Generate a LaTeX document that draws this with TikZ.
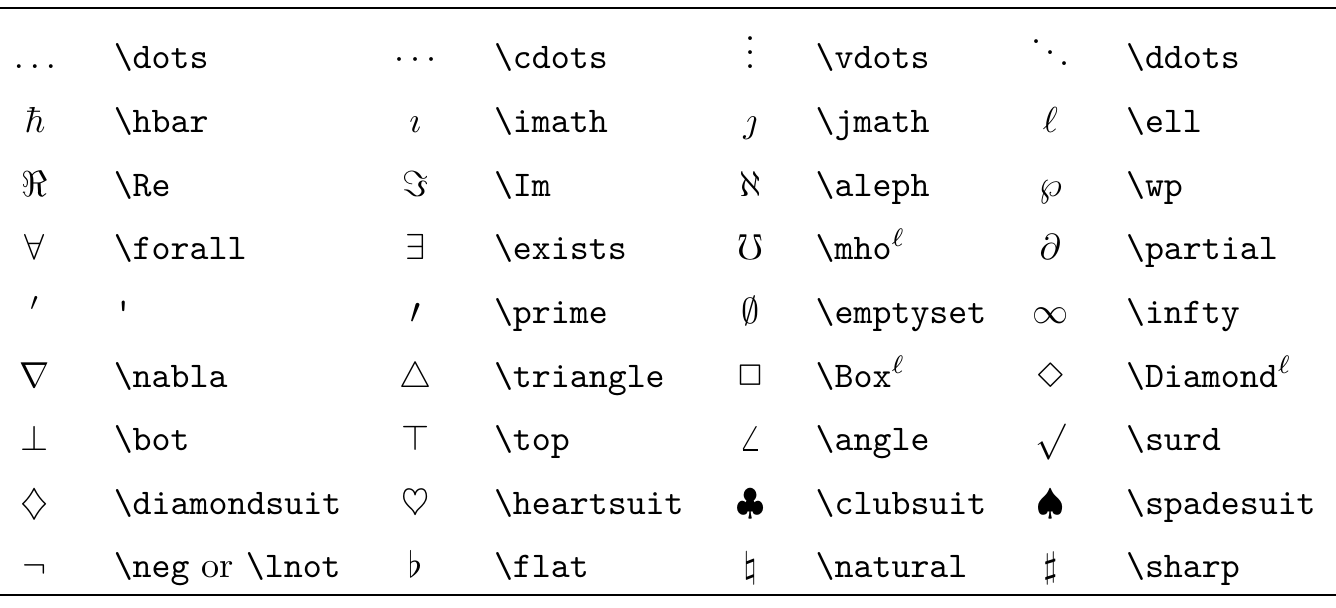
\documentclass[tikz,border=0pt]{standalone}
\usepackage{latexsym}
\begin{document}
\begin{tikzpicture}[sym/.style={anchor=base, inner sep=0pt}, cmd/.style={anchor=base west, inner sep=0pt, font=\ttfamily}]
		\useasboundingbox (0,0) rectangle (13,5.916);
		\draw [line width=0.5pt] (0,5.838) -- (13,5.838);
		\draw [line width=0.5pt] (0,0.127) -- (13,0.127);
		% row 1
		\node [sym] (s11) at (0.34,5.245) {$\dots$};
		\node [cmd] (c11) at (1.10,5.245) {\textbackslash dots};
		\node [sym] (s12) at (4.04,5.245) {$\cdots$};
		\node [cmd] (c12) at (4.80,5.245) {\textbackslash cdots};
		\node [sym] (s13) at (7.30,5.245) {$\vdots$};
		\node [cmd] (c13) at (7.93,5.245) {\textbackslash vdots};
		\node [sym] (s14) at (10.22,5.245) {$\ddots$};
		\node [cmd] (c14) at (10.95,5.245) {\textbackslash ddots};
		% row 2
		\node [sym] (s21) at (0.34,4.626) {$\hbar$};
		\node [cmd] (c21) at (1.10,4.626) {\textbackslash hbar};
		\node [sym] (s22) at (4.04,4.626) {$\imath$};
		\node [cmd] (c22) at (4.80,4.626) {\textbackslash imath};
		\node [sym] (s23) at (7.30,4.626) {$\jmath$};
		\node [cmd] (c23) at (7.93,4.626) {\textbackslash jmath};
		\node [sym] (s24) at (10.22,4.626) {$\ell$};
		\node [cmd] (c24) at (10.95,4.626) {\textbackslash ell};
		% row 3
		\node [sym] (s31) at (0.34,4.007) {$\Re$};
		\node [cmd] (c31) at (1.10,4.007) {\textbackslash Re};
		\node [sym] (s32) at (4.04,4.007) {$\Im$};
		\node [cmd] (c32) at (4.80,4.007) {\textbackslash Im};
		\node [sym] (s33) at (7.30,4.007) {$\aleph$};
		\node [cmd] (c33) at (7.93,4.007) {\textbackslash aleph};
		\node [sym] (s34) at (10.22,4.007) {$\wp$};
		\node [cmd] (c34) at (10.95,4.007) {\textbackslash wp};
		% row 4
		\node [sym] (s41) at (0.34,3.388) {$\forall$};
		\node [cmd] (c41) at (1.10,3.388) {\textbackslash forall};
		\node [sym] (s42) at (4.04,3.388) {$\exists$};
		\node [cmd] (c42) at (4.80,3.388) {\textbackslash exists};
		\node [sym] (s43) at (7.30,3.388) {$\mho$};
		\node [cmd] (c43) at (7.93,3.388) {\textbackslash mho$^\ell$};
		\node [sym] (s44) at (10.22,3.388) {$\partial$};
		\node [cmd] (c44) at (10.95,3.388) {\textbackslash partial};
		% row 5
		\node [sym] (s51) at (0.34,2.769) {$'$};
		\node [cmd] (c51) at (1.10,2.769) {\textquotesingle};
		\node [sym] (s52) at (4.04,2.769) {$\prime$};
		\node [cmd] (c52) at (4.80,2.769) {\textbackslash prime};
		\node [sym] (s53) at (7.30,2.769) {$\emptyset$};
		\node [cmd] (c53) at (7.93,2.769) {\textbackslash emptyset};
		\node [sym] (s54) at (10.22,2.769) {$\infty$};
		\node [cmd] (c54) at (10.95,2.769) {\textbackslash infty};
		% row 6
		\node [sym] (s61) at (0.34,2.150) {$\nabla$};
		\node [cmd] (c61) at (1.10,2.150) {\textbackslash nabla};
		\node [sym] (s62) at (4.04,2.150) {$\triangle$};
		\node [cmd] (c62) at (4.80,2.150) {\textbackslash triangle};
		\node [sym] (s63) at (7.30,2.150) {$\Box$};
		\node [cmd] (c63) at (7.93,2.150) {\textbackslash Box$^\ell$};
		\node [sym] (s64) at (10.22,2.150) {$\Diamond$};
		\node [cmd] (c64) at (10.95,2.150) {\textbackslash Diamond$^\ell$};
		% row 7
		\node [sym] (s71) at (0.34,1.531) {$\bot$};
		\node [cmd] (c71) at (1.10,1.531) {\textbackslash bot};
		\node [sym] (s72) at (4.04,1.531) {$\top$};
		\node [cmd] (c72) at (4.80,1.531) {\textbackslash top};
		\node [sym] (s73) at (7.30,1.531) {$\angle$};
		\node [cmd] (c73) at (7.93,1.531) {\textbackslash angle};
		\node [sym] (s74) at (10.22,1.531) {$\surd$};
		\node [cmd] (c74) at (10.95,1.531) {\textbackslash surd};
		% row 8
		\node [sym] (s81) at (0.34,0.912) {$\diamondsuit$};
		\node [cmd] (c81) at (1.10,0.912) {\textbackslash diamondsuit};
		\node [sym] (s82) at (4.04,0.912) {$\heartsuit$};
		\node [cmd] (c82) at (4.80,0.912) {\textbackslash heartsuit};
		\node [sym] (s83) at (7.30,0.912) {$\clubsuit$};
		\node [cmd] (c83) at (7.93,0.912) {\textbackslash clubsuit};
		\node [sym] (s84) at (10.22,0.912) {$\spadesuit$};
		\node [cmd] (c84) at (10.95,0.912) {\textbackslash spadesuit};
		% row 9
		\node [sym] (s91) at (0.34,0.293) {$\neg$};
		\node [sym, anchor=base west] (c91) at (1.10,0.293) {\texttt{\textbackslash neg} or \texttt{\textbackslash lnot}};
		\node [sym] (s92) at (4.04,0.293) {$\flat$};
		\node [cmd] (c92) at (4.80,0.293) {\textbackslash flat};
		\node [sym] (s93) at (7.30,0.293) {$\natural$};
		\node [cmd] (c93) at (7.93,0.293) {\textbackslash natural};
		\node [sym] (s94) at (10.22,0.293) {$\sharp$};
		\node [cmd] (c94) at (10.95,0.293) {\textbackslash sharp};
	\end{tikzpicture}
\end{document}
